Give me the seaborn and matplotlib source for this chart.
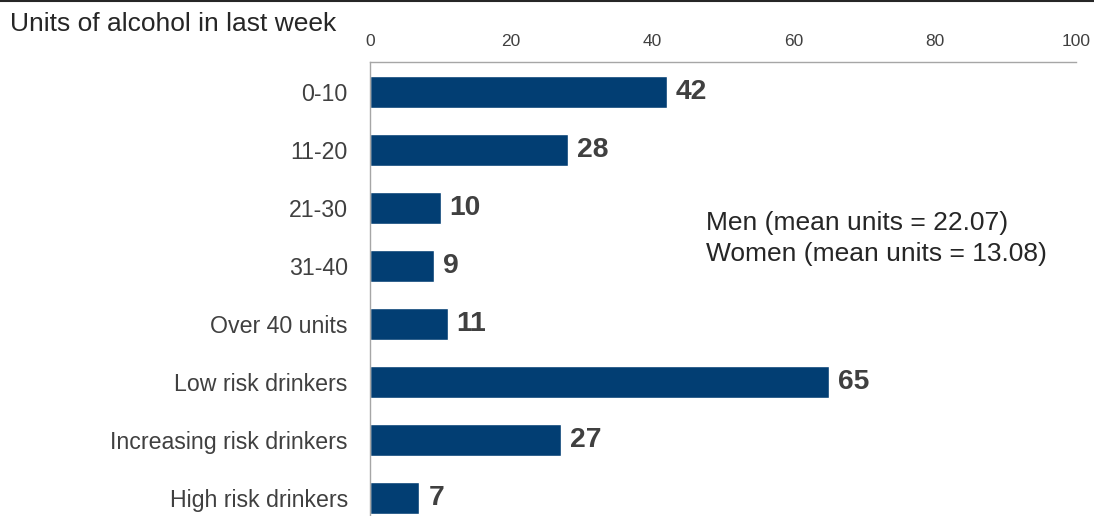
import matplotlib
matplotlib.use("Agg")
import matplotlib.pyplot as plt
from matplotlib.lines import Line2D
import seaborn as sns
import pandas as pd

categories = ["0-10", "11-20", "21-30", "31-40", "Over 40 units",
              "Low risk drinkers", "Increasing risk drinkers", "High risk drinkers"]
values = [42, 28, 10, 9, 11, 65, 27, 7]
x_ticks = [0, 20, 40, 60, 80, 100]
title = "Units of alcohol in last week"
note_lines = ["Men (mean units = 22.07)", "Women (mean units = 13.08)"]

sns.set_theme(style="white")
plt.rcParams["font.family"] = ["Liberation Sans", "DejaVu Sans"]

bar_color = "#023E73"
text_color = "#404040"

df = pd.DataFrame({"category": categories, "value": values})

fig = plt.figure(figsize=(10.94, 5.16), dpi=100)
ax = fig.add_axes([370 / 1094, 0.0, (1076 - 370) / 1094, 1 - 62 / 516])

sns.barplot(data=df, y="category", x="value", orient="h", color=bar_color,
            width=0.55, saturation=1, ax=ax)

ax.set_xlim(0, 100)
ax.set_ylim(7.31, -0.52)
ax.set_xticks(x_ticks)
ax.xaxis.tick_top()
ax.tick_params(axis="x", length=0, pad=9, labelsize=12.5, labelcolor=text_color)
ax.tick_params(axis="y", length=0, pad=16, labelsize=16.7, labelcolor=text_color)
ax.set_xlabel("")
ax.set_ylabel("")

for side in ("right", "bottom"):
    ax.spines[side].set_visible(False)
for side in ("top", "left"):
    ax.spines[side].set_color("#A6A6A6")
    ax.spines[side].set_linewidth(1.0)

for cont in ax.containers:
    ax.bar_label(cont, labels=[str(v) for v in values], padding=6.5,
                 fontsize=20.3, fontweight="bold", color=text_color)

for y_frac, line in zip([0.646, 0.576], note_lines):
    ax.text(0.476, y_frac, line, transform=ax.transAxes,
            fontsize=19, color="#262626", va="center", ha="left")

fig.text(10 / 1094, 1 - 24 / 516, title, fontsize=19, color="#262626",
         va="center", ha="left")

fig.add_artist(Line2D([0, 1], [0.999, 0.999], transform=fig.transFigure,
                      color="#262626", linewidth=1.5))

fig.savefig("out.png", dpi=100)
